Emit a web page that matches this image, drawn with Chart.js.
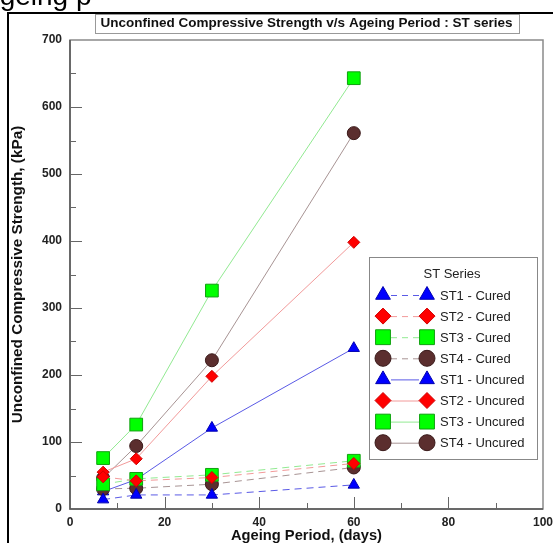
<!DOCTYPE html>
<html><head><meta charset="utf-8">
<script src="https://cdn.jsdelivr.net/npm/chart.js@4"></script>
<style>
html,body{margin:0;padding:0;background:#fff;overflow:hidden}
#wrap{position:relative;width:553px;height:543px;overflow:hidden}
#cap{position:absolute;left:-19px;top:-18px;font:28px "Liberation Sans",Arial,sans-serif;color:#000;white-space:nowrap;line-height:28px}
canvas{position:absolute;left:0;top:0}
</style></head><body>
<div id="wrap"><canvas id="c" width="553" height="543"></canvas><div id="cap">Ageing p</div></div>
<script>
// ---- data ----
const ageingDays = [7, 14, 30, 60];
const st1Cured = [14, 21, 21, 36];
const st2Cured = [48, 42, 47, 68];
const st3Cured = [37, 45, 51, 72];
const st4Cured = [30, 31, 37, 62];
const st1Uncured = [26, 44, 121, 240];
const st2Uncured = [55, 75, 198, 398];
const st3Uncured = [76, 126, 326, 643];
const st4Uncured = [46, 94, 222, 561];
const seriesLabels = ['ST1 - Cured','ST2 - Cured','ST3 - Cured','ST4 - Cured','ST1 - Uncured','ST2 - Uncured','ST3 - Uncured','ST4 - Uncured'];
const xTickValues = [0, 20, 40, 60, 80, 100];
const yTickValues = [0, 100, 200, 300, 400, 500, 600, 700];

// ---- styles ----
const FONT = '"Liberation Sans", Arial, sans-serif';
const styles = [
  {shape:'triangle', fill:'#0000ff', edge:'#0000b0', line:'#5a5ae6', r:6.5, lr:8.5},
  {shape:'rectRot',  fill:'#ff0000', edge:'#d00000', line:'#f29a9a', r:6,   lr:8},
  {shape:'rect',     fill:'#00ff00', edge:'#10a010', line:'#92ea92', r:9,   lr:10.5},
  {shape:'circle',   fill:'#5b2e2e', edge:'#3a1a1a', line:'#a89494', r:6.5, lr:8}
];
const seriesData = [st1Cured, st2Cured, st3Cured, st4Cured, st1Uncured, st2Uncured, st3Uncured, st4Uncured];

const datasets = seriesData.map((vals, i) => {
  const s = styles[i % 4];
  const cured = i < 4;
  return {
    label: seriesLabels[i],
    data: ageingDays.map((d, k) => ({x: d, y: vals[k]})),
    borderColor: s.line,
    backgroundColor: s.fill,
    borderWidth: 1,
    borderDash: cured ? [7, 5] : [],
    pointStyle: s.shape,
    pointRadius: s.r,
    pointHoverRadius: s.r,
    pointBackgroundColor: s.fill,
    pointBorderColor: s.edge,
    pointBorderWidth: 1,
    tension: 0,
    fill: false,
    _legendRadius: s.lr,
    _dashed: cured
  };
});

function drawMarker(ctx, shape, r, x, y, fill, edge) {
  ctx.save();
  ctx.fillStyle = fill; ctx.strokeStyle = edge; ctx.lineWidth = 1; ctx.setLineDash([]);
  ctx.beginPath();
  if (shape === 'triangle') {
    for (let k = 0; k < 3; k++) {
      const a = k * 2 * Math.PI / 3;
      const px = x + Math.sin(a) * r, py = y - Math.cos(a) * r;
      k ? ctx.lineTo(px, py) : ctx.moveTo(px, py);
    }
    ctx.closePath();
  } else if (shape === 'rectRot') {
    ctx.moveTo(x, y - r); ctx.lineTo(x + r, y); ctx.lineTo(x, y + r); ctx.lineTo(x - r, y); ctx.closePath();
  } else if (shape === 'rect') {
    const h = r * Math.SQRT1_2; ctx.rect(x - h, y - h, 2 * h, 2 * h);
  } else {
    ctx.arc(x, y, r, 0, Math.PI * 2);
  }
  ctx.fill(); ctx.stroke();
  ctx.restore();
}

const framePlugin = {
  id: 'frame',
  beforeDraw(chart) {
    const ctx = chart.ctx;
    ctx.save();
    ctx.fillStyle = '#fff'; ctx.fillRect(0, 0, chart.width, chart.height);
    ctx.strokeStyle = '#000'; ctx.lineWidth = 2;
    ctx.beginPath(); ctx.moveTo(8, 543); ctx.lineTo(8, 13); ctx.lineTo(553, 13); ctx.stroke();
    ctx.restore();
  },
  beforeDatasetsDraw(chart) {
    const ctx = chart.ctx, a = chart.chartArea;
    const xs = chart.scales.x, ys = chart.scales.y;
    ctx.save();
    ctx.strokeStyle = '#8a8a8a'; ctx.lineWidth = 1.5;
    ctx.strokeRect(a.left, a.top, a.right - a.left, a.bottom - a.top);
    ctx.strokeStyle = '#555'; ctx.lineWidth = 1.5;
    ctx.beginPath(); ctx.moveTo(a.left, a.top); ctx.lineTo(a.left, a.bottom); ctx.lineTo(a.right, a.bottom); ctx.stroke();
    ctx.strokeStyle = '#666'; ctx.lineWidth = 1;
    ctx.beginPath();
    for (let v = ys.min; v <= ys.max; v += 50) {
      const y = Math.round(ys.getPixelForValue(v)) + 0.5;
      const len = (v % 100 === 0) ? 12 : 6;
      if (v === ys.min || v === ys.max) continue;
      ctx.moveTo(a.left, y); ctx.lineTo(a.left + len, y);
    }
    for (let v = xs.min; v <= xs.max; v += 10) {
      const x = Math.round(xs.getPixelForValue(v)) + 0.5;
      const len = (v % 20 === 0) ? 12 : 6;
      if (v === xs.min || v === xs.max) continue;
      ctx.moveTo(x, a.bottom); ctx.lineTo(x, a.bottom - len);
    }
    ctx.stroke();
    ctx.restore();
  },
  afterDraw(chart) {
    const ctx = chart.ctx;
    const t = chart.titleBlock;
    if (t) {
      ctx.save();
      ctx.font = 'bold 13.5px ' + FONT;
      const w = ctx.measureText(chart.options.plugins.title.text).width;
      const cx = (t.left + t.right) / 2;
      ctx.strokeStyle = '#999'; ctx.lineWidth = 1;
      ctx.strokeRect(Math.round(cx - w / 2 - 6) + 0.5, 14.5, Math.round(w + 12), 19);
      ctx.restore();
    }
    const L = {x: 369, y: 257, w: 168, h: 202};
    ctx.save();
    ctx.fillStyle = '#fff';
    ctx.fillRect(L.x, L.y, L.w, L.h);
    ctx.strokeStyle = '#888'; ctx.lineWidth = 1;
    ctx.strokeRect(L.x + 0.5, L.y + 0.5, L.w, L.h);
    ctx.fillStyle = '#222';
    ctx.font = '13px ' + FONT;
    ctx.textAlign = 'center'; ctx.textBaseline = 'middle';
    ctx.fillText('ST Series', 452, 274);
    ctx.textAlign = 'left';
    chart.data.datasets.forEach((ds, i) => {
      const y = 295 + i * 21.1;
      const x1 = 383, x2 = 427;
      ctx.save();
      ctx.strokeStyle = ds.borderColor; ctx.lineWidth = 1;
      ctx.setLineDash(ds._dashed ? [6, 5] : []);
      ctx.beginPath(); ctx.moveTo(x1 + 8, y + 0.5); ctx.lineTo(x2 - 8, y + 0.5); ctx.stroke();
      ctx.restore();
      drawMarker(ctx, ds.pointStyle, ds._legendRadius, x1, y, ds.pointBackgroundColor, ds.pointBorderColor);
      drawMarker(ctx, ds.pointStyle, ds._legendRadius, x2, y, ds.pointBackgroundColor, ds.pointBorderColor);
      ctx.fillStyle = '#222';
      ctx.font = '13px ' + FONT;
      ctx.fillText(ds.label, 440, y + 1);
    });
    ctx.restore();
  }
};

new Chart(document.getElementById('c'), {
  type: 'line',
  data: { datasets },
  plugins: [framePlugin],
  options: {
    responsive: false,
    animation: false,
    events: [],
    layout: { padding: { left: 0, right: 8, top: 0, bottom: 0 } },
    plugins: {
      legend: { display: false },
      tooltip: { enabled: false },
      title: {
        display: true,
        fullSize: false,
        text: 'Unconfined Compressive Strength v/s Ageing Period : ST series',
        color: '#111',
        font: { family: FONT, size: 13.5, weight: 'bold', lineHeight: 1.2 },
        padding: { top: 15.4, bottom: 8.4 }
      }
    },
    scales: {
      x: {
        type: 'linear', min: 0, max: 100,
        afterBuildTicks(s) { s.ticks = xTickValues.map(v => ({value: v})); },
        afterFit(s) { s.height = 34; s.paddingLeft = 0; s.paddingRight = 0; },
        ticks: { color: '#222', font: { family: FONT, size: 12, weight: 'bold' }, padding: 6, maxRotation: 0 },
        grid: { display: false, drawTicks: false },
        border: { display: false },
        title: { display: true, text: 'Ageing Period, (days)', color: '#111',
          font: { family: FONT, size: 14.7, weight: 'bold', lineHeight: 1 }, padding: { top: 0, bottom: 0 } }
      },
      y: {
        type: 'linear', min: 0, max: 700,
        afterBuildTicks(s) { s.ticks = yTickValues.map(v => ({value: v})); },
        afterFit(s) { s.width = 70; s.paddingTop = 0; s.paddingBottom = 0; },
        ticks: { color: '#222', font: { family: FONT, size: 12, weight: 'bold' }, padding: 8 },
        grid: { display: false, drawTicks: false },
        border: { display: false },
        title: { display: true, text: 'Unconfined Compressive Strength, (kPa)', color: '#111',
          font: { family: FONT, size: 15.3, weight: 'bold', lineHeight: 1.2 }, padding: { top: 9, bottom: 0 } }
      }
    }
  }
});
</script>
</body></html>
